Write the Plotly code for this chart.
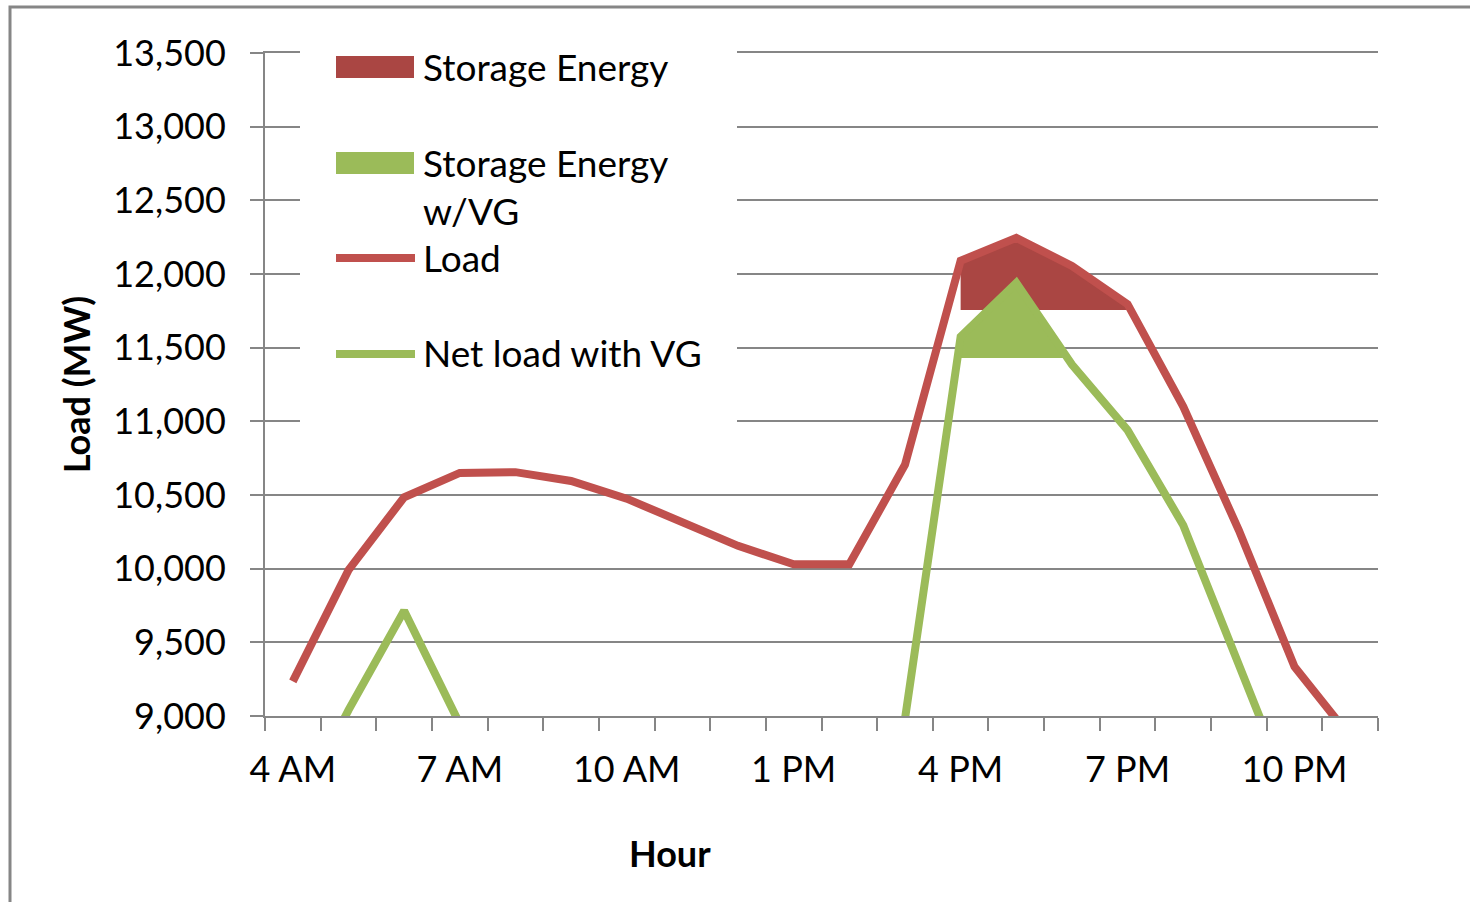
import plotly.graph_objects as go

# ---- data -----------------------------------------------------------------
HOURS = list(range(4, 24))                       # 4 AM .. 11 PM
TICK_HOURS = [4, 7, 10, 13, 16, 19, 22]
TICK_TEXT = ["4 AM", "7 AM", "10 AM", "1 PM", "4 PM", "7 PM", "10 PM"]

LOAD_MW = [9235, 9990, 10485, 10650, 10655, 10595, 10475, 10310, 10155, 10030,
           10030, 10705, 12090, 12245, 12055, 11795, 11100, 10260, 9335, 8860]

NET_LOAD_MW = [8300, 9040, 9715, 8945, 8700, 8450, 8250, 8100, 8000, 8050,
               8300, 8980, 11575, 11940, 11385, 10940, 10295, 9325, 8400, 8000]

STORAGE_START_HOUR = 16
STORAGE_LEVEL_MW = 11755        # storage discharges above this load
STORAGE_LEVEL_VG_MW = 11430     # storage discharges above this net load

# ---- styling --------------------------------------------------------------
RED_LINE = "#C0504D"
RED_FILL = "#AA4643"
GREEN = "#9BBB59"
GRID = "#868686"
FONT = "Lato"

# plot-area edges in pixels
PLOT_L, PLOT_R, PLOT_T, PLOT_B = 265, 1378, 53, 716
WIDTH, HEIGHT = 1470, 902


def px_x(px):
    return (px - PLOT_L) / (PLOT_R - PLOT_L)


def px_y(py):
    return (PLOT_B - py) / (PLOT_B - PLOT_T)


def storage_band(series, level, start):
    """Hours and top values of the region where `series` sits above `level`,
    starting at `start` and closed where the series falls back to the level."""
    i = HOURS.index(start)
    xs, tops = [HOURS[i]], [series[i]]
    while i + 1 < len(HOURS) and series[i + 1] > level:
        i += 1
        xs.append(HOURS[i])
        tops.append(series[i])
    if i + 1 < len(HOURS):
        frac = (series[i] - level) / (series[i] - series[i + 1])
        xs.append(HOURS[i] + frac)
        tops.append(level)
    return xs, tops


fig = go.Figure()

for series, level, color, name in [
    (LOAD_MW, STORAGE_LEVEL_MW, RED_FILL, "Storage Energy"),
    (NET_LOAD_MW, STORAGE_LEVEL_VG_MW, GREEN, "Storage Energy w/VG"),
]:
    xs, tops = storage_band(series, level, STORAGE_START_HOUR)
    fig.add_trace(go.Scatter(x=xs, y=[level] * len(xs), mode="lines",
                             line=dict(width=0), hoverinfo="skip",
                             showlegend=False))
    fig.add_trace(go.Scatter(x=xs, y=tops, mode="lines", fill="tonexty",
                             fillcolor=color, line=dict(width=0),
                             name=name, showlegend=False))

fig.add_trace(go.Scatter(x=HOURS, y=LOAD_MW, mode="lines", name="Load",
                         line=dict(color=RED_LINE, width=8),
                         showlegend=False))
fig.add_trace(go.Scatter(x=HOURS, y=NET_LOAD_MW, mode="lines",
                         name="Net load with VG",
                         line=dict(color=GREEN, width=8),
                         showlegend=False))

# ---- legend (drawn as a white panel over the grid) ------------------------
shapes = [
    # outer chart border
    dict(type="rect", xref="paper", yref="paper",
         x0=px_x(10), x1=px_x(WIDTH + 40), y0=px_y(HEIGHT + 40), y1=px_y(7),
         line=dict(color=GRID, width=3), fillcolor="rgba(0,0,0,0)",
         layer="below"),
    dict(type="rect", xref="paper", yref="paper",
         x0=px_x(300), x1=px_x(737), y0=px_y(460), y1=px_y(36),
         fillcolor="white", line=dict(width=0), layer="above"),
    dict(type="rect", xref="paper", yref="paper",
         x0=px_x(336), x1=px_x(414), y0=px_y(78), y1=px_y(56),
         fillcolor=RED_FILL, line=dict(width=0), layer="above"),
    dict(type="rect", xref="paper", yref="paper",
         x0=px_x(336), x1=px_x(414), y0=px_y(174), y1=px_y(152),
         fillcolor=GREEN, line=dict(width=0), layer="above"),
    dict(type="line", xref="paper", yref="paper",
         x0=px_x(336), x1=px_x(415), y0=px_y(258), y1=px_y(258),
         line=dict(color=RED_LINE, width=8), layer="above"),
    dict(type="line", xref="paper", yref="paper",
         x0=px_x(336), x1=px_x(415), y0=px_y(354), y1=px_y(354),
         line=dict(color=GREEN, width=8), layer="above"),
]

legend_font = dict(family=FONT, size=37, color="black")
annotations = [
    dict(text=t, x=px_x(421), y=px_y(yc), xref="paper", yref="paper",
         xanchor="left", yanchor="middle", showarrow=False, align="left",
         font=legend_font)
    for t, yc in [("Storage Energy", 66), ("Storage Energy<br>w/VG", 187),
                  ("Load", 257), ("Net load with VG", 353)]
]
annotations.append(dict(text="<b>Hour</b>", x=px_x(670), y=px_y(853),
                        xref="paper", yref="paper", xanchor="center",
                        yanchor="middle", showarrow=False,
                        font=dict(family=FONT, size=36, color="black")))

fig.update_layout(
    width=WIDTH, height=HEIGHT,
    margin=dict(l=PLOT_L, r=WIDTH - PLOT_R, t=PLOT_T, b=HEIGHT - PLOT_B),
    paper_bgcolor="white", plot_bgcolor="white",
    showlegend=False,
    font=dict(family=FONT, size=36, color="black"),
    shapes=shapes, annotations=annotations,
    xaxis=dict(
        range=[3.5, 23.5], tickmode="array", tickvals=TICK_HOURS,
        ticktext=TICK_TEXT, ticks="outside", ticklen=13,
        tickcolor="rgba(0,0,0,0)", showgrid=False, zeroline=False,
        showline=True, mirror=True, linecolor=GRID, linewidth=2,
        ticklabelstandoff=8,
        tickfont=dict(family=FONT, size=36, color="black"),
        minor=dict(tickmode="linear", tick0=3.5, dtick=1, ticks="outside",
                   ticklen=13, tickcolor=GRID, tickwidth=2, showgrid=False),
    ),
    yaxis=dict(
        range=[9000, 13500], tickmode="linear", tick0=9000, dtick=500,
        tickformat=",", ticks="outside", ticklen=13, tickcolor=GRID,
        tickwidth=2, showgrid=True, gridcolor=GRID, gridwidth=2,
        zeroline=False, showline=True, linecolor=GRID, linewidth=2,
        ticklabelstandoff=17,
        tickfont=dict(family=FONT, size=36, color="black"),
        title=dict(text="<b>Load (MW)</b>", standoff=12,
                   font=dict(family=FONT, size=36, color="black")),
    ),
)

fig.write_html("out.html")
